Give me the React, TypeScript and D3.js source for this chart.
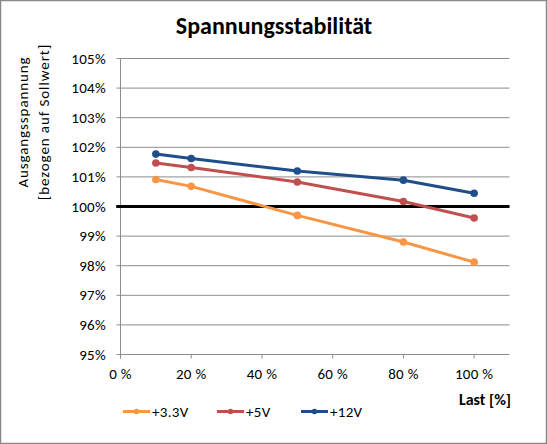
import React from "react";
import * as d3 from "d3";

const loads = [10, 20, 50, 80, 100];
const v33 = [100.91, 100.68, 99.7, 98.8, 98.12];
const v5 = [101.47, 101.32, 100.83, 100.17, 99.61];
const v12 = [101.77, 101.62, 101.2, 100.89, 100.45];
const seriesNames = ["+3.3V", "+5V", "+12V"];
const seriesColors = ["#F79646", "#C0504D", "#1F4E8A"];
const xTicks = [0, 20, 40, 60, 80, 100];
const yTicks = [95, 96, 97, 98, 99, 100, 101, 102, 103, 104, 105];
const refLine = [-1.2, 110];

const W = 547;
const H = 444;
const FONT = "Carlito, Calibri, 'Liberation Sans', Arial, sans-serif";

export default function App() {
  const x = d3.scaleLinear().domain([0, 110]).range([120.5, 509.5]);
  const y = d3.scaleLinear().domain([95, 105]).range([354.5, 58.5]);
  const series = [v33, v5, v12];
  const line = d3
    .line<[number, number]>()
    .x((d) => x(d[0]))
    .y((d) => y(d[1]));

  const legendX = [123, 217, 301];
  const legendY = 411.5;

  return (
    <svg
      width={W}
      height={H}
      style={{ position: "absolute", left: 0, top: 0, background: "#fff" }}
      fontFamily={FONT}
    >
      <rect x={0.5} y={0.5} width={W - 1} height={H - 1} fill="#fff" stroke="#888" strokeWidth={1.5} />
      <text x={274} y={34} textAnchor="middle" fontWeight="bold" fontSize={24} fill="#000">
        Spannungsstabilität
      </text>

      {/* gridlines */}
      {yTicks.map((t) => (
        <line key={t} x1={x(0) - 4} x2={x(110)} y1={y(t)} y2={y(t)} stroke="#8c8c8c" strokeWidth={1} />
      ))}
      {/* y axis */}
      <line x1={x(0)} x2={x(0)} y1={y(105)} y2={y(95) + 4} stroke="#8c8c8c" strokeWidth={1} />
      {/* x ticks */}
      {xTicks.map((t) => (
        <line key={t} x1={x(t)} x2={x(t)} y1={y(95)} y2={y(95) + 4} stroke="#8c8c8c" strokeWidth={1} />
      ))}
      {yTicks.map((t) => (
        <text key={t} x={106} y={y(t) + 5} textAnchor="end" fontSize={15} letterSpacing={0.3} fill="#000">
          {t}%
        </text>
      ))}
      {xTicks.map((t) => (
        <text key={t} x={x(t)} y={379} textAnchor="middle" fontSize={15} letterSpacing={0.3} fill="#000">
          {t} %
        </text>
      ))}

      {/* reference line 100% */}
      <path
        d={line(refLine.map((v) => [v, 100]) as [number, number][]) || ""}
        stroke="#000"
        strokeWidth={3}
        fill="none"
      />

      {series.map((s, i) => (
        <g key={i}>
          <path
            d={line(loads.map((l, j) => [l, s[j]]) as [number, number][]) || ""}
            stroke={seriesColors[i]}
            strokeWidth={3}
            fill="none"
            strokeLinejoin="round"
          />
          {loads.map((l, j) => (
            <circle key={j} cx={x(l)} cy={y(s[j])} r={3.8} fill={seriesColors[i]} />
          ))}
        </g>
      ))}

      {/* axis titles */}
      <text x={511} y={405} textAnchor="end" fontWeight="bold" fontSize={16} fill="#000">
        Last [%]
      </text>
      <text transform="translate(28,122) rotate(-90)" textAnchor="middle" fontSize={15} letterSpacing={0.9} fill="#000">
        Ausgangsspannung
      </text>
      <text transform="translate(49,122) rotate(-90)" textAnchor="middle" fontSize={15} letterSpacing={0.9} fill="#000">
        [bezogen auf Sollwert]
      </text>

      {/* legend */}
      {seriesNames.map((n, i) => (
        <g key={n}>
          <line x1={legendX[i]} x2={legendX[i] + 27} y1={legendY} y2={legendY} stroke={seriesColors[i]} strokeWidth={3} />
          <circle cx={legendX[i] + 13.5} cy={legendY} r={2.8} fill={seriesColors[i]} />
          <text x={legendX[i] + 29} y={legendY + 5} fontSize={15} letterSpacing={0.3} fill="#000">
            {n}
          </text>
        </g>
      ))}
    </svg>
  );
}
